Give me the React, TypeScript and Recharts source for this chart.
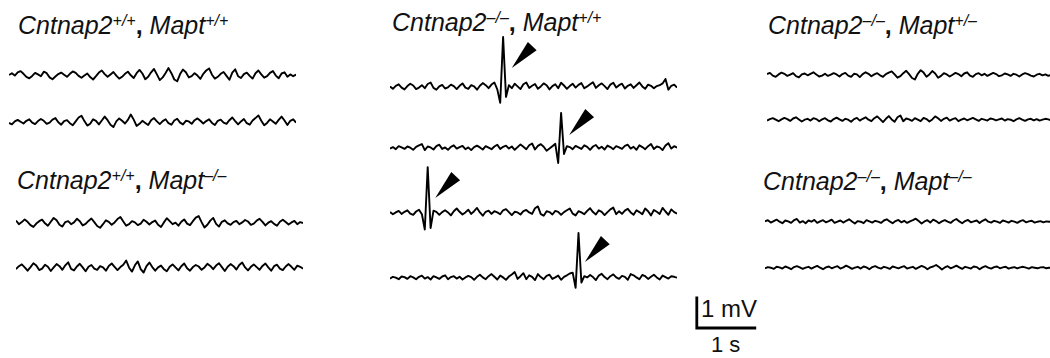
import React from 'react';
import { ComposedChart, Line, XAxis, YAxis, ReferenceDot } from 'recharts';

// EEG traces, values in µV, one sample every 0.05 s
const SAMPLE_INTERVAL_S = 0.05;
const TRACE_SECONDS = 4.95;

const wtWtTrace1 = [
  0, 60, -20, 90, 130, 40, -60, -110, -30, 70, 20, -40, 110, 60, -80, -140, -50, 30, 80, 10,
  -60, 40, 120, 70, -30, -90, -20, 50, -70, -150, -40, 80, 150, 30, -60, 20, 100, -20, -120, -60,
  40, 110, -10, -100, 60, 170, 50, -140, -60, 90, 200, 20, -170, -80, 70, 230, 60, -150, -210, 30,
  180, 90, -80, -40, 60, -20, -130, 40, 150, 220, 10, -120, -60, 40, 100, -30, -160, 80, 190, -40,
  -100, 30, 80, -30, -120, 60, 150, 20, -90, -40, 70, 130, -20, -110, 50, 90, -60, 20, -40, 10,
];
const wtWtTrace2 = [
  -30, -80, 20, 70, 10, -50, 40, 90, -20, -70, 30, 100, 40, -60, -20, 80, 130, -10, -90, 30,
  60, -40, -110, 20, 150, 210, 30, -120, -60, 90, 40, -80, 50, 180, 60, -90, -170, 20, 120, 40,
  -50, 70, 250, 80, -130, -60, 40, -30, -100, 60, 130, 20, -70, 30, 90, -40, -90, 50, 110, -20,
  -80, 40, 20, -60, 60, 120, 40, -50, 30, 90, -30, -100, 40, 80, -20, -60, 60, 150, 30, -80,
  20, 100, -40, -90, 50, 130, 220, 40, -110, -30, 90, 20, -60, 70, 180, 50, -100, 40, 90, -20,
];
const wtKoTrace1 = [
  80, -40, 30, 120, 40, -70, -130, -20, 60, 110, -10, -90, 40, 170, 90, -60, -120, 30, 60, -40,
  20, 140, 60, -80, -30, 70, 150, 30, -100, -160, -40, 90, 40, -60, 20, 130, 200, 50, -90, -40,
  60, 20, -70, -20, 110, 40, -50, 30, 80, -60, -130, 20, 160, 60, -40, 10, -90, 40, 120, -20,
  -70, 60, 180, 230, 30, -150, -60, 80, 170, -30, -120, 40, 90, -10, -60, 30, 70, -40, 20, 100,
  50, -60, -20, 80, 140, 40, -80, 10, 60, -30, -90, 40, 110, 30, -50, 20, 70, -40, 30, 0,
];
const wtKoTrace2 = [
  -40, 60, 120, 20, -90, 30, 160, 80, -70, -20, 110, 40, -100, 20, 130, 60, -60, 90, 190, -30,
  -80, 50, 140, 20, -110, 40, 100, -20, -60, 60, 20, -90, 70, 150, 40, -70, 30, 110, 250, 10,
  -120, 90, 220, -40, -150, 60, 180, 30, -90, 20, 80, -40, -110, 40, 120, 20, -80, 60, 150, -10,
  -90, 30, 100, 50, -60, 20, 140, 70, -40, 80, 160, 30, -100, 40, 130, 60, -50, 100, 180, 20,
  -80, 40, 120, 30, -60, 70, 150, 20, -90, 60, 110, -20, -70, 50, 130, 40, -60, 80, 40, -20,
];
const koWtTrace1 = [
  20, -60, 40, 90, -20, -80, 30, 110, 50, -70, -20, 60, -40, 100, 150, -30, -90, 20, 70, -50,
  -10, 80, 30, -70, 40, 120, -20, -60, 60, 20, -90, 40, 130, 60, -40, 80, 150, -80, -530, 1670,
  -330, 60, -40, 110, 20, -70, 90, 150, -30, 40, 100, -60, 20, 120, 60, -80, 30, 90, -40, 140,
  50, -60, 30, 110, -20, 70, 130, -40, 20, 90, 160, -30, 60, 120, 30, -70, 80, 140, -20, 60,
  110, -50, 40, 90, -30, 60, 150, 20, -60, 80, 40, -40, 30, 60, 120, 270, -90, 40, 80, -20,
];
const koWtTrace2 = [
  -20, 30, -40, 60, 20, -30, 50, 10, -60, 40, 90, 130, -70, 50, 20, -50, 60, 110, -30, 20,
  -60, 40, 90, -20, 30, 70, -40, 20, -70, 30, 80, 20, -50, 60, 10, -40, 50, 110, -30, 40,
  80, -20, 50, -60, 30, 120, 40, -40, 90, 150, -50, 70, 130, 40, -90, -20, 60, 140, -500, 1170,
  -200, 60, 30, -40, 70, 20, -30, 90, 40, -60, 50, 100, -20, 40, -50, 80, 30, -40, 60, 20,
  -30, 70, 110, -20, 40, -60, 90, 30, -40, 60, 130, -30, 50, 20, -70, 80, 160, -20, 60, 10,
];
const koWtTrace3 = [
  30, -40, 20, 70, -30, 40, 90, -20, -60, 50, 110, -40, -550, 1530, -500, 80, 40, -60, 30, 90,
  20, -80, 60, 150, 40, -50, 20, 110, -30, 60, 170, 20, -90, 40, 80, -30, 60, 20, -40, 90,
  130, 30, -70, 40, 20, -50, 60, 100, 20, -30, 160, 220, -40, -90, 60, 30, -50, 70, 40, -60,
  30, 90, 150, -20, -80, 60, 20, -40, 70, 160, 30, -50, 90, 40, -70, 30, 120, 180, -40, 60,
  -30, 80, 140, 20, -60, 90, 30, -40, 150, 60, -80, 100, 40, -30, 170, 50, -60, 120, 30, -20,
];
const koWtTrace4 = [
  -20, 40, 10, -40, 50, 30, -30, 60, 20, -40, 40, 80, -20, 30, -50, 60, 20, -30, 50, 90,
  -40, 30, 60, -20, 40, -50, 20, 70, 30, -60, 40, 110, 20, -40, 60, 130, 40, -50, 80, 20,
  -60, 50, 120, 200, -30, 60, 160, -40, 90, 40, -70, 130, 30, -40, 70, 110, -30, 20, 80, -60,
  40, 90, 150, 180, -330, 1500, -150, 60, 20, 100, 30, -70, 80, 140, 30, -40, 60, 120, 20, -30,
  70, 40, -60, 130, 90, 20, -40, 100, 60, -30, 40, 110, 20, -50, 80, 30, -20, 60, 40, 10,
];
const koHetTrace1 = [
  30, 70, -20, -60, 20, 80, 40, -30, 10, 60, -40, -80, 20, 50, -10, 40, 90, 20, -50, -20,
  40, -30, 10, 60, 20, -50, 30, 70, -20, -60, 40, 20, -70, 30, 90, 40, -40, 20, 60, -10,
  -60, 30, 80, 120, 20, -90, -40, 60, 140, 30, -100, -150, 40, 160, 80, -60, 20, 130, 50, -90,
  -30, 60, 20, -50, 10, 70, 30, -40, 50, 90, -20, -60, 30, 60, -10, 40, -30, 20, 70, 30,
  -40, -10, 50, 20, -30, 40, 10, -50, 20, 60, 30, -20, -50, 10, 40, -10, 20, -30, 10, 0,
];
const koHetTrace2 = [
  -20, 30, 60, 10, -40, 20, 70, 30, -30, 50, 90, 20, -50, 10, 40, -20, 60, 30, -40, 20,
  60, -10, -50, 30, 80, 20, -30, 40, 10, -60, 30, 70, -20, 40, 90, 10, -40, 60, 120, 30,
  -70, 40, 130, 20, -60, 90, 150, -40, 50, 20, -30, 60, 10, -40, 70, 30, -50, 20, 120, 60,
  -30, 40, 80, -20, 30, 60, -40, 10, 50, -10, 30, 70, 20, -30, 40, 10, -20, 50, 30, -10,
  20, 50, -20, 30, 10, -40, 20, 60, 10, -30, 20, 40, -10, 30, -20, 10, 40, 20, -10, 0,
];
const koKoTrace1 = [
  20, 60, -20, 30, 80, 10, -40, 50, 20, -30, 60, 100, -20, 30, -40, 50, 10, 70, -30, 20,
  60, -10, 30, 80, -30, 10, 50, -20, 40, 90, 20, -50, 30, 10, -40, 60, 20, -20, 40, 10,
  -30, 50, 90, 20, -40, 30, 70, -10, 40, -30, 20, 60, 110, 30, -50, 20, 60, -20, 80, 30,
  -40, 20, 60, 10, -30, 50, 100, 20, -40, 30, 70, -10, 20, 50, -30, 40, 90, 10, -20, 40,
  10, -30, 50, 20, -20, 40, 10, -30, 30, 60, -10, 20, 40, -20, 10, 30, -10, 20, 10, 0,
];
const koKoTrace2 = [
  -10, 30, 10, -30, 40, 20, -20, 50, 10, -40, 30, 60, 20, -30, 10, 40, -20, 30, 70, 10,
  -40, 20, 50, -10, 30, 60, -20, 20, 80, 30, -30, 10, 40, -20, 50, 20, -40, 30, 60, 10,
  -20, 40, 10, -30, 50, 20, -10, 30, 60, -20, 10, 40, -30, 20, 70, 30, -40, 20, 50, 100,
  30, -50, 20, 60, -10, 30, 80, 20, -30, 40, 10, -20, 50, 30, -40, 20, 60, 10, -20, 30,
  50, -10, 20, 40, -20, 10, 30, -10, 20, 40, 10, -20, 30, 10, -10, 20, 30, -10, 10, 0,
];

// spike markers (time in s, level in µV of the arrow tip)
const spikeArrowTimes = [2.1, 3.09, 0.78, 3.36];
const spikeArrowLevels = [630, 430, 500, 530];

// panel titles
const cntnap2Genotypes = ['+/+', '–/–', '–/–', '+/+', '–/–'];
const maptGenotypes = ['+/+', '+/+', '+/–', '–/–', '–/–'];

// scale bar: 1 mV, 1 s
const scaleBarTimes = [0, 0, 1];
const scaleBarLevels = [1000, 0, 0];

const FONT = '"Liberation Sans", Arial, Helvetica, sans-serif';
const PX_PER_S = 58;
const PX_PER_MV = 30;
const Y_MIN = -1000;
const Y_MAX = 2000;
const CHART_W = TRACE_SECONDS * PX_PER_S;
const CHART_H = ((Y_MAX - Y_MIN) / 1000) * PX_PER_MV;

const ArrowHead = (props: any) => {
  const { cx, cy } = props;
  const len = 30;
  const half = 6;
  const ang = (-47 * Math.PI) / 180;
  const bx = cx + len * Math.cos(ang);
  const by = cy + len * Math.sin(ang);
  const px = -Math.sin(ang) * half;
  const py = Math.cos(ang) * half;
  return (
    <polygon
      points={`${cx},${cy} ${bx + px},${by + py} ${bx - px},${by - py}`}
      fill="#000"
    />
  );
};

interface TraceProps {
  values: number[];
  left: number;
  baseline: number;
  arrow?: number;
}

function Trace({ values, left, baseline, arrow }: TraceProps) {
  const data = values.map((uv, i) => ({ t: i * SAMPLE_INTERVAL_S, uv }));
  const top = baseline - (Y_MAX / 1000) * PX_PER_MV;
  return (
    <div style={{ position: 'absolute', left, top }}>
      <ComposedChart
        width={CHART_W}
        height={CHART_H}
        data={data}
        margin={{ top: 0, right: 0, bottom: 0, left: 0 }}
      >
        <XAxis dataKey="t" type="number" domain={[0, TRACE_SECONDS]} hide />
        <YAxis type="number" domain={[Y_MIN, Y_MAX]} hide />
        <Line
          type="linear"
          dataKey="uv"
          stroke="#000"
          strokeWidth={1.9}
          strokeLinejoin="round"
          dot={false}
          isAnimationActive={false}
        />
        {arrow !== undefined && (
          <ReferenceDot
            x={spikeArrowTimes[arrow]}
            y={spikeArrowLevels[arrow]}
            shape={ArrowHead}
            ifOverflow="visible"
          />
        )}
      </ComposedChart>
    </div>
  );
}

function Title({ idx, left, baseline }: { idx: number; left: number; baseline: number }) {
  const sup: React.CSSProperties = {
    fontSize: 16,
    position: 'relative',
    top: -8,
    verticalAlign: 'baseline',
  };
  return (
    <div
      style={{
        position: 'absolute',
        left,
        top: baseline - 21,
        fontFamily: FONT,
        fontSize: 25,
        lineHeight: '25px',
        fontStyle: 'italic',
        whiteSpace: 'nowrap',
        color: '#111',
      }}
    >
      Cntnap2<span style={sup}>{cntnap2Genotypes[idx]}</span>
      <span style={{ fontStyle: 'normal', fontWeight: 'bold' }}>, </span>
      Mapt<span style={sup}>{maptGenotypes[idx]}</span>
    </div>
  );
}

function ScaleBar({ left, bottom }: { left: number; bottom: number }) {
  const data = scaleBarTimes.map((t, i) => ({ t, uv: scaleBarLevels[i] }));
  const w = 1.2 * PX_PER_S;
  const h = 1.2 * PX_PER_MV;
  return (
    <div style={{ position: 'absolute', left: left - 0.1 * PX_PER_S, top: bottom - 1.1 * PX_PER_MV }}>
      <ComposedChart width={w} height={h} data={data} margin={{ top: 0, right: 0, bottom: 0, left: 0 }}>
        <XAxis dataKey="t" type="number" domain={[-0.1, 1.1]} hide />
        <YAxis type="number" domain={[-100, 1100]} hide />
        <Line
          type="linear"
          dataKey="uv"
          stroke="#000"
          strokeWidth={2.8}
          strokeLinecap="square"
          dot={false}
          isAnimationActive={false}
        />
      </ComposedChart>
    </div>
  );
}

export default function App() {
  return (
    <div
      style={{
        position: 'absolute',
        left: 0,
        top: 0,
        width: 1050,
        height: 358,
        overflow: 'hidden',
        background: '#fff',
        fontFamily: FONT,
      }}
    >
      <Title idx={0} left={18} baseline={34} />
      <Title idx={1} left={392} baseline={31} />
      <Title idx={2} left={768} baseline={34} />
      <Title idx={3} left={17} baseline={189} />
      <Title idx={4} left={763} baseline={190} />

      <Trace values={wtWtTrace1} left={9} baseline={75} />
      <Trace values={wtWtTrace2} left={9} baseline={122} />
      <Trace values={wtKoTrace1} left={16} baseline={223} />
      <Trace values={wtKoTrace2} left={16} baseline={268} />

      <Trace values={koWtTrace1} left={390} baseline={87} arrow={0} />
      <Trace values={koWtTrace2} left={390} baseline={148} arrow={1} />
      <Trace values={koWtTrace3} left={390} baseline={213} arrow={2} />
      <Trace values={koWtTrace4} left={390} baseline={278} arrow={3} />

      <Trace values={koHetTrace1} left={767} baseline={75} />
      <Trace values={koHetTrace2} left={767} baseline={120} />
      <Trace values={koKoTrace1} left={765} baseline={222} />
      <Trace values={koKoTrace2} left={765} baseline={268} />

      <ScaleBar left={697} bottom={328} />
      <div style={{ position: 'absolute', left: 701, top: 297, fontSize: 24, lineHeight: '24px', color: '#111' }}>
        1 mV
      </div>
      <div style={{ position: 'absolute', left: 711, top: 334, fontSize: 22, lineHeight: '22px', color: '#111' }}>
        1 s
      </div>
    </div>
  );
}
